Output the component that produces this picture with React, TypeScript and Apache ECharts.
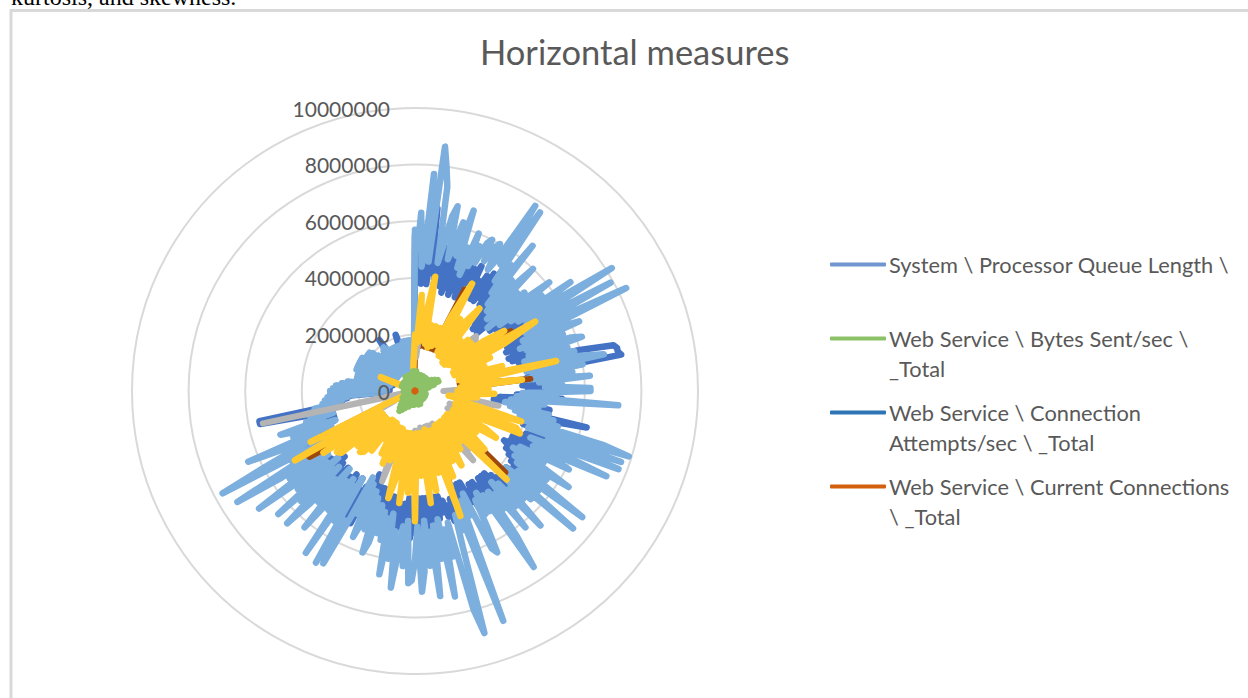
import React, { useEffect, useRef } from "react";
import * as echarts from "echarts";

const FONT = "Lato";
const TITLE = "Horizontal measures";
const INTRO = "kurtosis, and skewness.";
const UNIT = 100000;
const AXIS_MAX = 10000000;
const AXIS_STEP = 2000000;

// One value per degree, clockwise from the top, each row is 30 degrees (units of 100000)
const connectionAttempts = [
  55,40,60,38,50,62,38,65,42,55,38,46,52,38,50,36,52,38,50,36,48,38,52,36,50,42,48,44,50,40,
  45,38,48,38,50,40,55,38,48,36,44,32,40,30,44,32,40,30,44,34,46,34,48,36,50,38,46,38,52,40,
  46,36,50,36,46,36,48,35,46,37,46,35,48,36,50,38,60,72,73,73,74,42,50,40,44,40,46,38,44,40,
  42,50,36,52,30,45,28,40,48,36,48,40,62,42,50,44,48,40,52,46,50,42,44,38,50,38,48,38,46,36,
  38,46,38,48,40,55,42,50,44,46,42,50,42,48,44,46,42,48,40,46,38,46,38,44,38,46,40,46,38,44,
  38,50,40,44,36,46,36,48,38,46,40,44,40,48,42,46,40,44,38,46,38,48,38,46,38,52,38,50,38,44,
  50,38,52,38,50,40,48,40,50,40,52,38,46,38,44,36,46,36,44,36,48,34,46,32,48,36,52,38,50,40,
  56,36,52,38,50,36,48,38,46,38,50,36,50,38,48,36,50,34,50,36,50,38,50,40,52,38,50,40,46,38,
  36,48,34,44,36,40,34,36,32,36,30,34,30,32,30,34,30,38,56,56,30,28,26,28,24,26,22,12,26,10,
  26,9,26,10,24,9,22,9,20,9,18,9,18,9,18,8,18,8,18,8,20,8,20,8,20,8,20,8,20,8,
  20,8,20,8,20,8,20,8,20,8,19,8,18,8,16,8,15,8,14,8,16,8,16,8,16,22,16,8,16,8,
  15,8,15,8,15,8,15,8,15,8,15,21,15,8,15,8,15,8,16,8,16,8,16,8,16,8,16,8,16,16,
];
const lightBlue = [
  57,50,63,44,50,77,46,87,80,73,46,52,63,67,48,54,62,50,67,46,54,44,60,48,56,50,58,60,52,58,
  60,50,56,78,54,77,48,56,44,66,40,52,38,50,60,36,50,38,52,34,50,61,38,56,42,67,44,58,82,46,
  54,79,44,56,83,42,56,63,40,56,42,58,62,42,56,40,58,44,60,68,40,60,42,56,38,62,44,52,46,62,
  62,38,50,36,72,34,46,32,44,34,48,36,50,38,52,40,69,79,42,77,50,77,44,52,74,46,54,61,42,52,
  40,54,64,42,56,44,54,74,46,56,42,74,44,56,46,54,48,65,44,54,42,62,46,52,44,63,75,44,50,42,
  50,44,54,64,62,40,48,42,50,87,44,52,46,58,89,80,48,60,50,74,46,60,48,73,50,62,46,64,71,48,
  60,67,68,46,62,48,58,70,50,60,44,66,46,54,44,52,42,56,60,40,52,38,50,56,36,48,34,50,69,52,
  70,36,54,40,69,38,52,40,50,62,36,52,42,54,65,38,56,40,65,36,54,40,52,69,38,54,40,56,74,42,
  50,36,77,61,48,38,50,64,32,46,30,44,50,34,40,30,38,34,40,30,36,28,33,26,32,24,31,14,30,12,
  30,10,29,12,28,10,26,12,24,10,21,10,21,9,21,9,21,9,21,9,22,9,22,9,22,9,22,9,22,9,
  22,9,22,9,21,8,21,8,21,8,21,8,20,8,18,8,17,8,15,8,17,8,18,8,19,8,18,8,17,8,
  17,8,17,8,17,8,17,8,17,8,17,8,17,8,17,8,18,8,18,8,18,8,18,8,18,8,18,8,18,19,
];
// One value every 2 degrees, clockwise from the top, each row is 30 degrees
const brown = [
  16,16,20,16,18,30,16,18,16,18,16,20,16,40,30,
  16,20,16,20,30,16,18,16,18,16,18,16,20,30,40,
  40,25,16,20,16,18,19,24,16,40,16,16,41,16,18,
  16,18,16,14,16,16,16,16,30,16,30,32,16,16,20,
  24,16,18,16,18,24,43,36,16,16,16,18,16,16,24,
  16,20,16,24,28,38,16,22,16,28,16,30,16,22,16,
  36,16,26,16,30,16,22,30,16,16,18,16,20,16,18,
  14,14,14,18,14,20,22,25,20,14,26,26,14,30,44,
  40,14,32,12,1,1,1,1,1,1,1,1,1,1,1,
  1,1,1,1,1,1,1,1,1,1,1,1,1,1,1,
  1,1,1,1,1,1,1,1,1,1,1,1,1,1,1,
  1,1,1,1,1,1,1,1,1,1,1,1,1,2,4,
];
const gray = [
  14,12,18,20,18,20,18,20,18,20,18,20,18,20,18,
  20,18,18,18,20,18,20,18,20,29,28,20,18,18,18,
  18,20,18,20,18,20,18,20,18,20,18,20,18,20,18,
  10,20,18,20,18,30,18,20,18,26,13,20,18,20,13,
  20,18,24,18,26,18,30,18,28,20,32,18,24,18,20,
  18,13,18,20,18,13,18,13,18,20,18,13,18,14,18,
  14,18,20,18,20,18,20,18,20,20,34,20,18,20,18,
  18,20,18,20,18,20,18,20,18,20,18,20,18,20,18,
  18,20,8,12,4,8,3,8,3,55,3,2,2,1,2,
  2,1,2,1,2,1,2,1,2,1,2,1,2,1,2,
  1,2,1,2,1,2,1,2,1,2,1,2,1,2,1,
  2,1,2,1,2,1,2,1,2,1,2,3,6,10,12,
];
const yellow = [
  20,17,34,18,26,41,17,24,16,24,17,24,18,30,43,
  16,30,15,30,37,15,24,14,26,14,26,15,30,38,16,
  49,36,15,29,15,26,17,32,16,51,20,17,38,16,26,
  15,28,16,22,12,16,15,24,39,15,38,40,16,15,28,
  33,15,26,14,26,32,14,45,15,24,14,26,14,24,31,
  14,28,15,33,15,47,15,30,14,36,15,40,15,30,15,
  46,16,36,15,40,15,30,39,15,14,26,14,28,14,25,
  13,20,13,26,13,28,29,14,28,14,34,35,14,39,16,
  49,14,41,12,2,2,1,2,1,2,1,2,1,2,1,
  1,2,1,2,1,2,1,2,2,1,4,13,4,1,2,
  1,2,1,2,1,2,1,2,1,2,1,2,1,2,1,
  2,1,2,1,2,1,2,1,2,1,2,3,5,8,12,
];
const bytesSent = [
  7,3,7,2,6,3,6,2,5,3,6,2,5,3,6,
  2,5,3,5,2,6,3,5,2,6,3,6,3,7,3,
  8,4,9,4,9,3,7,3,5,2,4,2,3,2,3,
  3,1,3,1,3,2,3,1,4,2,3,1,4,2,4,
  2,4,1,4,2,4,1,4,2,4,1,4,2,4,1,
  4,2,4,1,5,2,5,1,5,2,4,1,4,2,4,
  2,4,1,5,2,5,1,5,2,5,2,6,2,6,2,
  7,2,8,3,9,3,8,2,7,2,6,2,5,2,5,
  2,5,1,4,2,4,1,4,2,4,1,4,2,4,1,
  4,2,4,1,4,2,4,1,4,2,5,1,4,2,5,
  2,5,1,5,2,5,1,5,2,5,1,5,2,6,2,
  5,2,5,1,6,2,6,1,6,2,6,3,7,3,7,
];
const currentConnections = [
  .3,.2,.4,.2,.3,.2,.4,.3,.2,.3,.4,.2,.3,.2,.4,
  .2,.3,.4,.2,.3,.2,.3,.4,.2,.3,.2,.4,.3,.2,.3,
  .4,.2,.3,.2,.4,.3,.2,.3,.4,.2,.3,.2,.4,.2,.3,
  .3,.4,.2,.3,.2,.4,.3,.2,.3,.2,.4,.2,.3,.4,.2,
  .3,.2,.4,.2,.3,.3,.2,.4,.3,.2,.3,.4,.2,.3,.2,
  .4,.3,.2,.3,.4,.2,.3,.2,.4,.2,.3,.3,.4,.2,.3,
  .2,.4,.3,.2,.3,.2,.4,.2,.3,.4,.2,.3,.2,.4,.2,
  .3,.3,.2,.4,.3,.2,.3,.4,.2,.3,.2,.4,.3,.2,.3,
  .4,.2,.3,.2,.4,.2,.3,.3,.4,.2,.3,.2,.4,.3,.2,
  .3,.2,.4,.2,.3,.4,.2,.3,.2,.4,.2,.3,.3,.2,.4,
  .3,.2,.3,.4,.2,.3,.2,.4,.3,.2,.3,.4,.2,.3,.2,
  .4,.2,.3,.3,.4,.2,.3,.2,.4,.3,.2,.3,.2,.4,.2,
];

const NAME_SYSTEM = "System \\ Processor Queue Length \\";
const NAME_BYTES = "Web Service \\ Bytes Sent/sec \\ _Total";
const NAME_ATTEMPTS = "Web Service \\ Connection Attempts/sec \\ _Total";
const NAME_CURRENT = "Web Service \\ Current Connections \\ _Total";

const legendLines: Record<string, string[]> = {
  [NAME_SYSTEM]: ["System \\ Processor Queue Length \\"],
  [NAME_BYTES]: ["Web Service \\ Bytes Sent/sec \\", "_Total"],
  [NAME_ATTEMPTS]: ["Web Service \\ Connection", "Attempts/sec \\ _Total"],
  [NAME_CURRENT]: ["Web Service \\ Current Connections", "\\ _Total"],
};
const legendColors: Record<string, string> = {
  [NAME_SYSTEM]: "#6F96D1",
  [NAME_BYTES]: "#8CC168",
  [NAME_ATTEMPTS]: "#2E75B6",
  [NAME_CURRENT]: "#D2600F",
};
const legendCentres: [string, number][] = [
  [NAME_SYSTEM, 264.5],
  [NAME_BYTES, 338.5],
  [NAME_ATTEMPTS, 412.5],
  [NAME_CURRENT, 486.5],
];

// name, values, colour, width, radar index
const seriesDefs: [string, number[], string, number, number][] = [
  [NAME_SYSTEM, connectionAttempts, "#4472C4", 6.5, 0],
  [NAME_ATTEMPTS, lightBlue, "#7CAFDD", 6.5, 0],
  ["Series 7", brown, "#9E480E", 6, 1],
  ["Series 3", gray, "#B4B4B4", 6, 1],
  ["Series 4", yellow, "#FFC82D", 6.5, 1],
  [NAME_BYTES, bytesSent, "#8CC168", 6, 1],
  [NAME_CURRENT, currentConnections, "#D2600F", 5, 1],
];

const LINE_H = 30;
// ECharts lays radar axes out counter-clockwise; the values run clockwise
const clockwise = (a: number[]) => [a[0], ...a.slice(1).reverse()];

const radarBase = (count: number, showGrid: boolean) => ({
  center: [415, 391],
  radius: 283,
  shape: "circle",
  splitNumber: 5,
  indicator: Array.from({ length: count }, () => ({ name: "", min: 0, max: AXIS_MAX })),
  axisName: { show: false },
  axisLine: { show: false },
  axisTick: { show: false },
  axisLabel: { show: false },
  splitArea: { show: false },
  splitLine: { show: showGrid, lineStyle: { color: "#D9D9D9", width: 2 } },
});

export default function App() {
  const ref = useRef<HTMLDivElement>(null);
  useEffect(() => {
    document.body.style.margin = "0";
    const chart = echarts.init(ref.current!, undefined, { renderer: "svg" });
    chart.setOption({
      animation: false,
      backgroundColor: "#fff",
      title: {
        text: TITLE,
        left: 480,
        top: 34,
        padding: 0,
        textStyle: { fontFamily: FONT, fontSize: 34.5, fontWeight: "normal", color: "#595959" },
      },
      legend: legendCentres.map(([name, cy]) => {
        const n = legendLines[name].length;
        const h = (n === 1 ? 1 : 3) * LINE_H;
        return {
          data: [{ name, itemStyle: { color: legendColors[name] } }],
          left: 830,
          top: cy - h / 2,
          padding: 0,
          icon: "roundRect",
          itemWidth: 56,
          itemHeight: 4,
          itemGap: 0,
          selectedMode: false,
          formatter: (v: string) => {
            const l = legendLines[v];
            return l.length === 1 ? l[0] : "\n" + l.join("\n");
          },
          textStyle: { fontFamily: FONT, fontSize: 21.8, lineHeight: LINE_H, color: "#595959", padding: [0, 0, 0, -2] },
        };
      }),
      grid: { left: 415, top: 108, width: 1, height: 283 },
      xAxis: { type: "value", show: false, min: 0, max: 1 },
      yAxis: {
        type: "value",
        min: 0,
        max: AXIS_MAX,
        interval: AXIS_STEP,
        z: 10,
        axisLine: { show: false },
        axisTick: { show: false },
        splitLine: { show: false },
        axisLabel: { margin: 25, fontFamily: FONT, fontSize: 21, color: "#595959", formatter: (v: number) => String(v) },
      },
      radar: [radarBase(lightBlue.length, true), radarBase(yellow.length, false)],
      series: seriesDefs.map(([name, vals, color, width, radarIndex]) => ({
        type: "radar",
        name,
        radarIndex,
        silent: true,
        symbol: "none",
        itemStyle: { color },
        lineStyle: { color, width, cap: "round", join: "round" },
        data: [{ value: clockwise(vals).map((v) => v * UNIT), name }],
      })),
      graphic: [
        {
          type: "text",
          x: 11,
          y: 9,
          style: {
            text: INTRO,
            fontFamily: "Liberation Serif",
            fontSize: 24,
            fill: "#000",
            textVerticalAlign: "bottom",
          },
        },
        {
          type: "polyline",
          shape: { points: [[11, 698], [11, 10.5], [1248, 10.5]] },
          style: { stroke: "#D9D9D9", lineWidth: 3, fill: "none" },
        },
      ],
    });
    return () => chart.dispose();
  }, []);
  return <div ref={ref} style={{ position: "absolute", left: 0, top: 0, width: 1248, height: 698 }} />;
}
